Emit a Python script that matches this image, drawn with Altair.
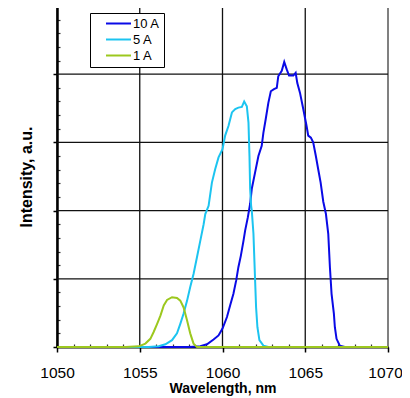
import altair as alt
import pandas as pd

# ---- data ----
series_names = ["10 A", "5 A", "1 A"]
series_colors = ["#0A0AE6", "#1CC4F0", "#9CC81E"]

wl_10A = [1050, 1058.0, 1058.66, 1059.06, 1059.46, 1059.76, 1060.0, 1060.27, 1060.46, 1060.66,
          1060.83, 1060.96, 1061.11, 1061.27, 1061.37, 1061.53, 1061.67, 1061.77, 1061.97,
          1062.17, 1062.37, 1062.47, 1062.61, 1062.77, 1062.92, 1063.11, 1063.28, 1063.37,
          1063.58, 1063.73, 1063.88, 1064.02, 1064.28, 1064.42, 1064.52, 1064.68, 1064.88,
          1065.08, 1065.18, 1065.34, 1065.48, 1065.64, 1065.78, 1065.93, 1066.09, 1066.25,
          1066.39, 1066.49, 1066.59, 1066.73, 1066.79, 1066.89, 1067.09, 1067.39, 1070]
int_10A = [0, 0, 0.01, 0.04, 0.11, 0.17, 0.27, 0.44, 0.61, 0.78,
           0.98, 1.17, 1.34, 1.56, 1.71, 1.90, 2.10, 2.32, 2.56,
           2.80, 2.95, 3.14, 3.34, 3.58, 3.75, 3.78, 3.80, 3.97,
           4.05, 4.18, 4.07, 3.98, 3.98, 4.02, 3.87, 3.73, 3.49,
           3.24, 3.10, 3.07, 3.00, 2.80, 2.61, 2.41, 2.13, 1.95,
           1.66, 1.17, 0.78, 0.49, 0.29, 0.12, 0.02, 0, 0]

wl_5A = [1050, 1055.54, 1056.14, 1056.55, 1056.95, 1057.25, 1057.45, 1057.65, 1057.86,
         1058.05, 1058.25, 1058.46, 1058.66, 1058.86, 1058.96, 1059.16, 1059.36, 1059.56,
         1059.76, 1060.0, 1060.16, 1060.36, 1060.57, 1060.77, 1060.96, 1061.17, 1061.31,
         1061.47, 1061.57, 1061.63, 1061.67, 1061.73, 1061.77, 1061.87, 1061.97, 1062.03,
         1062.11, 1062.23, 1062.47, 1062.77, 1070]
int_5A = [0, 0, 0.01, 0.04, 0.10, 0.20, 0.34, 0.49, 0.68,
          0.88, 1.07, 1.32, 1.56, 1.80, 1.95, 2.07, 2.41, 2.61,
          2.78, 2.90, 3.10, 3.24, 3.44, 3.49, 3.51, 3.52, 3.60,
          3.53, 3.29, 2.80, 2.32, 2.07, 2.00, 1.66, 0.98, 0.58,
          0.29, 0.10, 0.02, 0, 0]

wl_1A = [1050, 1054.14, 1054.94, 1055.34, 1055.64, 1055.84, 1056.05, 1056.25, 1056.45,
         1056.65, 1056.95, 1057.25, 1057.45, 1057.65, 1057.86, 1058.05, 1058.25, 1058.46, 1070]
int_1A = [0, 0, 0.01, 0.05, 0.12, 0.22, 0.34, 0.46, 0.61,
          0.69, 0.73, 0.72, 0.68, 0.58, 0.39, 0.20, 0.05, 0, 0]

x_major = [1050, 1055, 1060, 1065, 1070]
x_minor = [1051, 1052, 1053, 1054, 1056, 1057, 1058, 1059, 1061, 1062, 1063, 1064,
           1066, 1067, 1068, 1069]
y_major = [0, 1, 2, 3, 4, 5]
y_minor = [0.2, 0.4, 0.6, 0.8, 1.2, 1.4, 1.6, 1.8, 2.2, 2.4, 2.6, 2.8,
           3.2, 3.4, 3.6, 3.8, 4.2, 4.4, 4.6, 4.8]
x_grid = [1055, 1060, 1065]
y_grid = [1, 2, 3, 4]

# ---- build tables ----
rows = []
for name, wl, iv in [("10 A", wl_10A, int_10A), ("5 A", wl_5A, int_5A), ("1 A", wl_1A, int_1A)]:
    for i, (w, v) in enumerate(zip(wl, iv)):
        rows.append({"series": name, "wl": w, "val": v, "idx": i})
df = pd.DataFrame(rows)

FONT = "Liberation Sans"
xscale = alt.Scale(domain=[1050, 1070], nice=False, zero=False)
yscale = alt.Scale(domain=[0, 5], nice=False, zero=True)

lines = alt.Chart(df).mark_line(strokeWidth=2).encode(
    x=alt.X("wl:Q", scale=xscale, axis=alt.Axis(
        values=x_major, format="d", grid=False, orient="bottom",
        labelFlush=False, labelOverlap=False,
        labelOffset={"condition": {"test": "datum.value === 1070", "value": -3}, "value": 0},
        labelFont=FONT, labelFontSize=15.5, labelColor="black", labelPadding=13,
        tickSize=5, tickColor="black", tickWidth=1.5,
        domainColor="black", domainWidth=2,
        title="Wavelength, nm", titleFont=FONT, titleFontSize=14,
        titleFontWeight="bold", titleColor="black", titlePadding=1)),
    y=alt.Y("val:Q", scale=yscale, axis=alt.Axis(
        values=y_major, labels=False, grid=False, orient="left",
        tickSize=4, tickColor="black", tickWidth=1.5,
        domainColor="black", domainWidth=2.5,
        title="Intensity, a.u.", titleFont=FONT, titleFontSize=16,
        titleFontWeight="bold", titleColor="black", titlePadding=18)),
    color=alt.Color("series:N", scale=alt.Scale(domain=series_names, range=series_colors),
                    legend=alt.Legend(
                        orient="none", legendX=33, legendY=7, title=None,
                        fillColor="white", strokeColor="black", padding=4,
                        symbolType="M-2.5,0H2.5", symbolSize=100, symbolStrokeWidth=2,
                        symbolOffset=18, labelOffset=8, rowPadding=2,
                        labelFont=FONT, labelFontSize=13, labelColor="black")),
    detail="series:N",
    order="idx:Q",
)

gx = alt.Chart(pd.DataFrame({"g": x_grid})).mark_rule(color="#111", strokeWidth=1.3).encode(
    x=alt.X("g:Q", scale=xscale, axis=alt.Axis(
        values=x_minor, orient="bottom", offset=-3, tickSize=3, tickColor="#333",
        tickWidth=1.2, labels=False, domain=False, grid=False, title=None)))

gy = alt.Chart(pd.DataFrame({"g": y_grid})).mark_rule(color="#111", strokeWidth=1.3).encode(
    y=alt.Y("g:Q", scale=yscale, axis=alt.Axis(
        values=y_minor, orient="left", offset=-3, tickSize=3, tickColor="#333",
        tickWidth=1.2, labels=False, domain=False, grid=False, title=None)))

chart = alt.layer(gx, gy, lines).resolve_axis(x="independent", y="independent").properties(
    width=331, height=341,
    autosize=alt.AutoSizeParams(type="none"),
    padding={"left": 49, "top": -2, "right": 14, "bottom": 55},
).configure_view(stroke="#808080", strokeWidth=2)

chart.save("out.html", embed_options={"renderer": "svg", "actions": False})
